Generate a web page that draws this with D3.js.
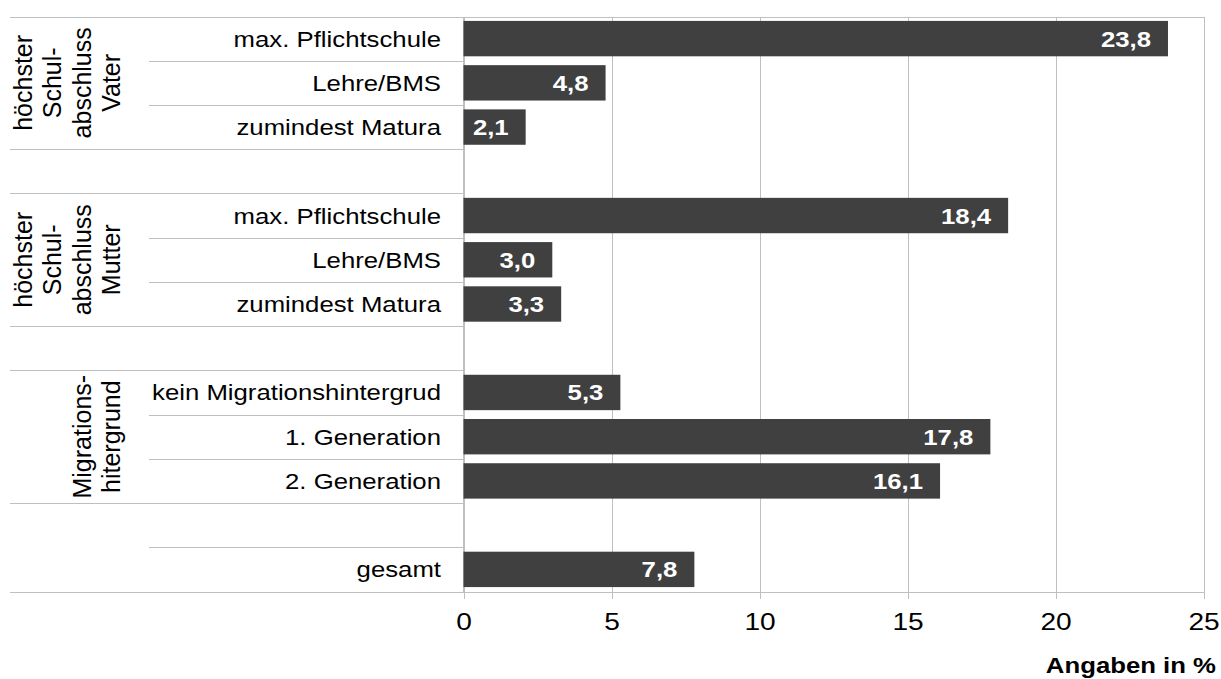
<!DOCTYPE html>
<html lang="de">
<head>
<meta charset="utf-8">
<title>Angaben in %</title>
<style>
  body { margin: 0; background: #fff; }
  svg { font-family: "Liberation Sans", Arial, Helvetica, sans-serif; }
  .rule { stroke: #bfbfbf; stroke-width: 1px; shape-rendering: crispEdges; }
  .bar { fill: #404040; }
  .bar-label { fill: #fff; font-weight: bold; font-size: 22px; text-anchor: end; }
  .cat-label { font-size: 22px; text-anchor: end; fill: #000; }
  .group-label { font-size: 25px; text-anchor: middle; fill: #000; }
  .axis path, .axis line { stroke: #bfbfbf; shape-rendering: crispEdges; }
  .axis text { font-size: 24px; fill: #000; }
  .unit { font-size: 22px; font-weight: bold; text-anchor: end; }
</style>
</head>
<body>
<script src="https://d3js.org/d3.v7.min.js"></script>
<script>
var categories = ["max. Pflichtschule", "Lehre/BMS", "zumindest Matura", "",
                  "max. Pflichtschule", "Lehre/BMS", "zumindest Matura", "",
                  "kein Migrationshintergrud", "1. Generation", "2. Generation", "",
                  "gesamt"];
var values = [23.8, 4.8, 2.1, null, 18.4, 3.0, 3.3, null, 5.3, 17.8, 16.1, null, 7.8];
var groupLabels = [["höchster", "Schul-", "abschluss", "Vater"],
                   ["höchster", "Schul-", "abschluss", "Mutter"],
                   ["Migrations-", "hitergrund"]];
var groupRows = [[0, 3], [4, 7], [8, 11]];
var xTicks = [0, 5, 10, 15, 20, 25];
var unitLabel = "Angaben in %";

// row borders in the left table: full width vs. only under the category column
var fullRules = [0, 3, 4, 7, 8, 11, 13];
var shortRules = [1, 2, 5, 6, 9, 10, 12];

var W = 1221, H = 679;
var plotL = 463.5, plotR = 1203.5, plotT = 16.5, plotB = 591.5;
var sx = 1.17; // labels in the picture are a bit wider than plain Arial

var svg = d3.select("body").append("svg")
    .attr("width", W).attr("height", H);

var x = d3.scaleLinear().domain([0, 25]).range([plotL, plotR]);
var y = d3.scaleBand().domain(d3.range(categories.length))
    .range([plotT, plotB]).paddingInner(0.2).paddingOuter(0.1);
var step = y.step();
function border(k) { return plotT + k * step; }

// grid
svg.append("g").attr("class", "axis grid")
    .attr("transform", "translate(0," + plotT + ")")
    .call(d3.axisBottom(x).tickValues(xTicks).tickSize(plotB - plotT).tickFormat(""))
    .call(function(g) { g.select(".domain").remove(); });

svg.append("line").attr("class", "rule")
    .attr("x1", plotL).attr("x2", plotL).attr("y1", plotT).attr("y2", plotB);

// table rules
svg.append("g").selectAll("line")
    .data(fullRules).enter().append("line")
    .attr("class", "rule")
    .attr("x1", 10).attr("x2", function(d) { return (d === 0) ? plotR : plotL; })
    .attr("y1", function(d) { return Math.round(border(d)) + 0.5; })
    .attr("y2", function(d) { return Math.round(border(d)) + 0.5; });

svg.append("g").selectAll("line")
    .data(shortRules).enter().append("line")
    .attr("class", "rule")
    .attr("x1", 149).attr("x2", plotL)
    .attr("y1", function(d) { return Math.round(border(d)) + 0.5; })
    .attr("y2", function(d) { return Math.round(border(d)) + 0.5; });

// x axis
var xAxis = svg.append("g").attr("class", "axis")
    .attr("transform", "translate(0," + plotB + ")")
    .call(d3.axisBottom(x).tickValues(xTicks).tickSize(7).tickPadding(14).tickSizeOuter(0));
xAxis.selectAll("text").attr("transform", "scale(" + sx + ",1)");

// bars
var rows = values.map(function(v, i) { return { i: i, v: v }; })
    .filter(function(d) { return d.v !== null; });

svg.append("g").selectAll("rect")
    .data(rows).enter().append("rect")
    .attr("class", "bar")
    .attr("x", x(0))
    .attr("y", function(d) { return y(d.i); })
    .attr("width", function(d) { return x(d.v) - x(0); })
    .attr("height", y.bandwidth());

var fmt = d3.format(".1f");
svg.append("g").selectAll("text")
    .data(rows).enter().append("text")
    .attr("class", "bar-label")
    .attr("transform", function(d) {
        return "translate(" + (x(d.v) - 17) + "," + (y(d.i) + y.bandwidth() / 2 + 8) + ") scale(" + sx + ",1)";
    })
    .text(function(d) { return fmt(d.v).replace(".", ","); });

// category labels
svg.append("g").selectAll("text")
    .data(categories).enter().append("text")
    .attr("class", "cat-label")
    .attr("transform", function(d, i) {
        return "translate(441," + (y(i) + y.bandwidth() / 2 + 8) + ") scale(" + sx + ",1)";
    })
    .text(function(d) { return d; });

// group labels, rotated
var lineGap = 29.5;
var gl = svg.append("g").selectAll("text")
    .data(groupLabels).enter().append("text")
    .attr("class", "group-label")
    .attr("transform", function(d, i) {
        var cy = (border(groupRows[i][0]) + border(groupRows[i][1])) / 2;
        return "translate(120," + cy + ") rotate(-90)";
    });
gl.selectAll("tspan")
    .data(function(d) { return d.map(function(t, j) { return { t: t, j: j, n: d.length }; }); })
    .enter().append("tspan")
    .attr("x", 0)
    .attr("y", function(d) { return (d.j - (d.n - 1)) * lineGap; })
    .text(function(d) { return d.t; });

// unit
svg.append("text").attr("class", "unit")
    .attr("transform", "translate(1216,673) scale(" + sx + ",1)")
    .text(unitLabel);
</script>
</body>
</html>
